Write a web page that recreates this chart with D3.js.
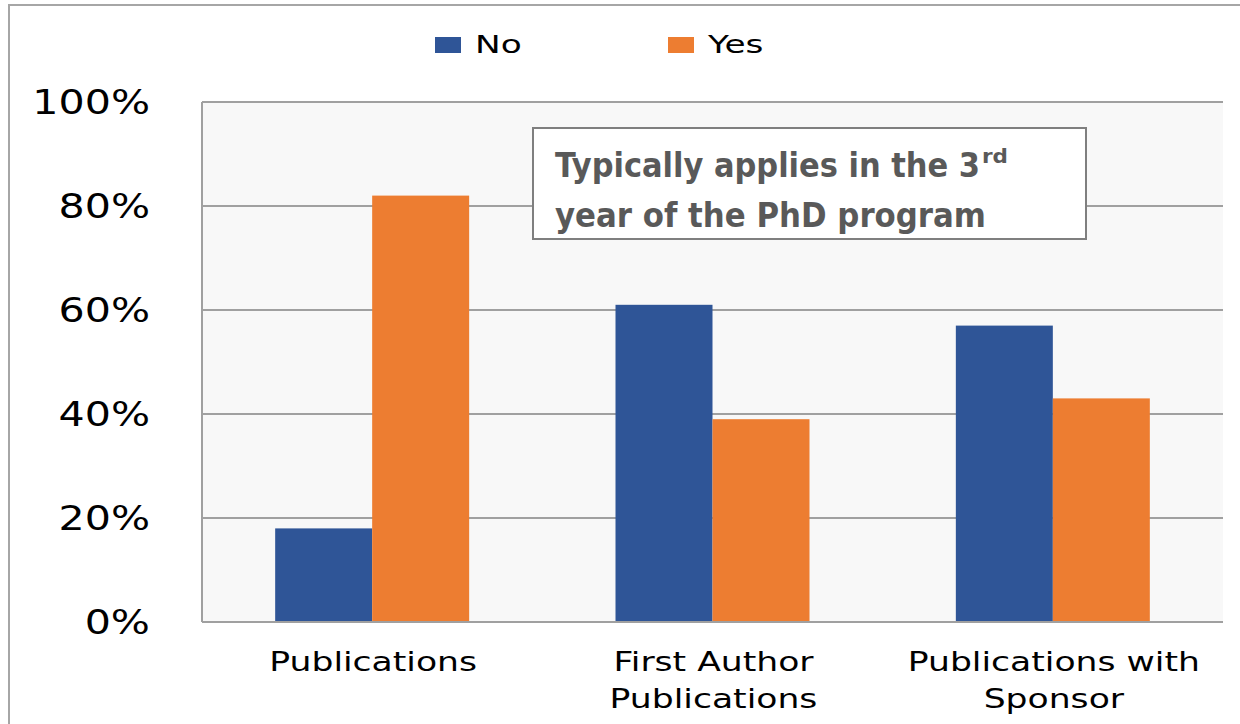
<!DOCTYPE html>
<html>
<head>
<meta charset="utf-8">
<script src="https://cdn.jsdelivr.net/npm/d3@7"></script>
<style>
  html, body { margin: 0; padding: 0; background: #ffffff; }
  svg { display: block; }
</style>
</head>
<body>
<svg id="chart" width="1240" height="724"></svg>
<script>
// ---- data ----
const categories = [["Publications"], ["First Author", "Publications"], ["Publications with", "Sponsor"]];
const seriesNames = ["No", "Yes"];
const noValues = [18, 61, 57];
const yesValues = [82, 39, 43];
const yTicks = [0, 20, 40, 60, 80, 100];
const annotationLines = ["Typically applies in the 3", "year of the PhD program"];
const annotationSup = "rd";

const colors = { No: "#2F5597", Yes: "#ED7D31" };
const svg = d3.select("#chart");

const plot = { left: 202, right: 1223, top: 102, bottom: 622 };

// stretch helper: fonts in the reference are wider than the available ones
function stretch(sel, factor) {
  sel.each(function () {
    const w = this.getComputedTextLength();
    d3.select(this).attr("textLength", w * factor).attr("lengthAdjust", "spacingAndGlyphs");
  });
}

// outer chart border
svg.append("rect")
  .attr("x", 9).attr("y", 5).attr("width", 1400).attr("height", 900)
  .attr("fill", "none").attr("stroke", "#a6a6a6").attr("stroke-width", 2);

// plot background
svg.append("rect")
  .attr("x", plot.left).attr("y", plot.top)
  .attr("width", plot.right - plot.left).attr("height", plot.bottom - plot.top)
  .attr("fill", "#f8f8f8");

const x0 = d3.scaleBand()
  .domain(d3.range(categories.length))
  .range([plot.left, plot.right])
  .paddingInner(0.43).paddingOuter(0.215);
const x1 = d3.scaleBand().domain(seriesNames).range([0, x0.bandwidth()]).padding(0);
const y = d3.scaleLinear().domain([0, 100]).range([plot.bottom, plot.top]);

// gridlines
svg.append("g").selectAll("line").data(yTicks).join("line")
  .attr("x1", plot.left).attr("x2", plot.right)
  .attr("y1", d => y(d)).attr("y2", d => y(d))
  .attr("stroke", "#a0a0a0").attr("stroke-width", 2);

// left axis line
svg.append("line")
  .attr("x1", plot.left).attr("x2", plot.left)
  .attr("y1", plot.top).attr("y2", plot.bottom)
  .attr("stroke", "#a0a0a0").attr("stroke-width", 2);

// bars
const data = categories.map((c, i) => ({ i, No: noValues[i], Yes: yesValues[i] }));
const groups = svg.append("g").selectAll("g").data(data).join("g")
  .attr("transform", d => `translate(${x0(d.i)},0)`);
groups.selectAll("rect").data(d => seriesNames.map(k => ({ key: k, value: d[k] }))).join("rect")
  .attr("x", d => x1(d.key))
  .attr("width", x1.bandwidth())
  .attr("y", d => y(d.value))
  .attr("height", d => y(0) - y(d.value))
  .attr("fill", d => colors[d.key]);

// bottom axis line (over bars)
svg.append("line")
  .attr("x1", plot.left).attr("x2", plot.right)
  .attr("y1", plot.bottom).attr("y2", plot.bottom)
  .attr("stroke", "#a0a0a0").attr("stroke-width", 2);

// y tick labels
const yLabels = svg.append("g").selectAll("text").data(yTicks).join("text")
  .attr("x", 150).attr("y", d => y(d) + 12)
  .attr("text-anchor", "end")
  .attr("font-family", "DejaVu Sans").attr("font-size", 34)
  .attr("fill", "#000")
  .text(d => d + "%");
stretch(yLabels, 1.21);

// category labels
const catG = svg.append("g").selectAll("text").data(categories.map((c, i) => ({ c, i }))).join("text")
  .attr("text-anchor", "middle")
  .attr("font-family", "DejaVu Sans").attr("font-size", 26)
  .attr("fill", "#000");
catG.each(function (d) {
  const cx = x0(d.i) + x0.bandwidth() / 2 + 1;
  d3.select(this).selectAll("tspan").data(d.c).join("tspan")
    .attr("x", cx).attr("y", (t, j) => 671 + j * 37)
    .text(t => t);
});
stretch(svg.selectAll("g text tspan").filter(function () { return false; }), 1);
catG.selectAll("tspan").each(function () {
  const w = this.getComputedTextLength();
  d3.select(this).attr("textLength", w * 1.33).attr("lengthAdjust", "spacingAndGlyphs");
});

// legend
const legendX = [435, 668];
const legend = svg.append("g").selectAll("g").data(seriesNames).join("g")
  .attr("transform", (d, i) => `translate(${legendX[i]},0)`);
legend.append("rect").attr("x", 0).attr("y", 37).attr("width", 26).attr("height", 16)
  .attr("fill", d => colors[d]);
const legText = legend.append("text").attr("x", 40).attr("y", 53)
  .attr("font-family", "DejaVu Sans").attr("font-size", 24).attr("fill", "#000")
  .text(d => d);
stretch(legText, 1.43);

// annotation box
svg.append("rect")
  .attr("x", 533).attr("y", 128).attr("width", 553).attr("height", 111)
  .attr("fill", "#ffffff").attr("stroke", "#7f7f7f").attr("stroke-width", 2);
const annWidths = [425, 431];
svg.append("g").selectAll("text").data(annotationLines).join("text")
  .attr("x", 555).attr("y", (d, i) => 177 + i * 50)
  .attr("font-family", "'Liberation Sans Narrow', 'DejaVu Sans Condensed', sans-serif")
  .attr("font-weight", "bold").attr("font-size", 34).attr("fill", "#595959")
  .attr("textLength", (d, i) => annWidths[i]).attr("lengthAdjust", "spacingAndGlyphs")
  .text(d => d);
svg.append("text")
  .attr("x", 982).attr("y", 163)
  .attr("font-family", "'Liberation Sans Narrow', 'DejaVu Sans Condensed', sans-serif")
  .attr("font-weight", "bold").attr("font-size", 20).attr("fill", "#595959")
  .attr("textLength", 26).attr("lengthAdjust", "spacingAndGlyphs")
  .text(annotationSup);
</script>
</body>
</html>
